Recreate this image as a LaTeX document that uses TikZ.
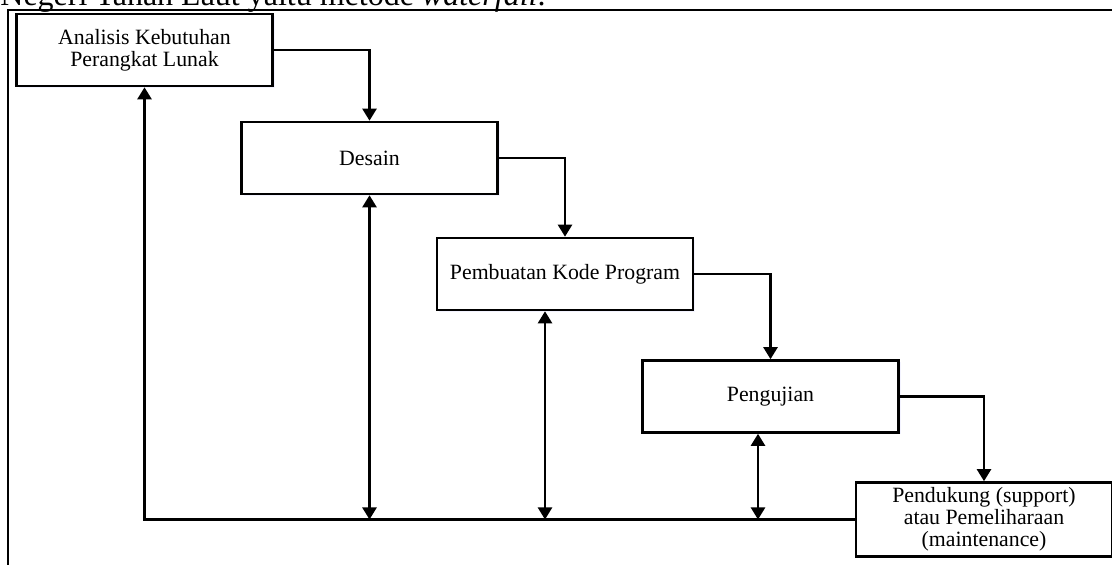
\documentclass[tikz,border=0pt]{standalone}
\usepackage{fontspec}
\setmainfont{Liberation Serif}
\usetikzlibrary{positioning,arrows.meta,shadows}

\begin{document}
\begin{tikzpicture}[
  x=0.5pt,y=-0.5pt,
  font=\fontsize{10.9}{10.9}\selectfont,
  box/.style={draw,line width=1.3pt,fill=white,minimum width=128pt,minimum height=36pt,align=center,inner sep=2pt,
    drop shadow={shadow xshift=1pt,shadow yshift=-1pt,opacity=0.12,fill=blue!40}},
  edge/.style={-{Triangle[length=6pt,width=7pt]},line width=1.2pt},
  both/.style={{Triangle[length=6pt,width=7pt]}-{Triangle[length=6pt,width=7pt]},line width=1.2pt},
  frame/.style={line width=1.3pt}
]
\useasboundingbox (0,0) rectangle (1112,565);
% teks paragraf di atas gambar (terpotong)
\node[anchor=base west,inner sep=0pt,font=\fontsize{16}{19}\selectfont] (cap) at (0,6) {Negeri Tanah Laut yaitu metode \textit{waterfall}.};
\coordinate (fl) at (8,575);
\coordinate (fr) at (1120,10);
\draw[frame] (fl) |- (fr);

\node[box] (ana) at (144.5,50) {Analisis Kebutuhan\\Perangkat Lunak};
\node[box] (des) at (369.5,158) {Desain};
\node[box] (kode) at (565,274) {Pembuatan Kode Program};
\node[box] (uji) at (770.5,396.5) {Pengujian};
\node[box,minimum height=37pt] (pel) at (984,519.5) {Pendukung (support)\\atau Pemeliharaan\\(maintenance)};

\draw[edge] (ana.east) -| (des.north);
\draw[edge] (des.east) -| (kode.north);
\draw[edge] (kode.east) -| (uji.north);
\draw[edge] (uji.east) -| (pel.north);
\draw[edge] (pel.west) -| (ana.south);

\coordinate (d) at (des.south);
\coordinate (k) at ([xshift=-10pt]kode.south);
\coordinate (u) at ([xshift=-6.25pt]uji.south);
\draw[both] (d) -- (d |- pel.west);
\draw[both] (k) -- (k |- pel.west);
\draw[both] (u) -- (u |- pel.west);
\end{tikzpicture}
\end{document}
